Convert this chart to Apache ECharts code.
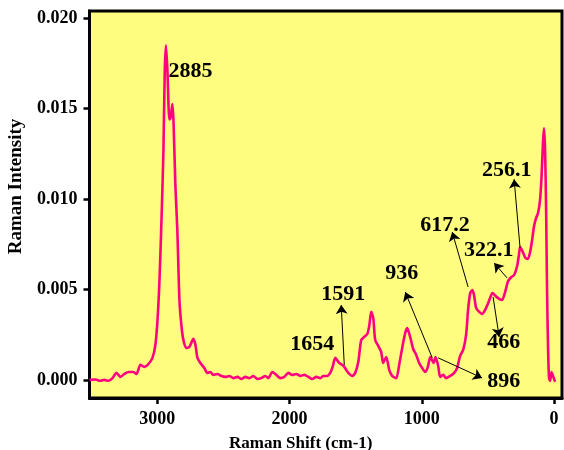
<!DOCTYPE html>
<html>
<head>
<meta charset="utf-8">
<title>Raman spectrum</title>
<script src="https://cdn.jsdelivr.net/npm/echarts@6/dist/echarts.min.js"></script>
<style>
  html, body { margin: 0; padding: 0; background: #ffffff; }
  #chart { width: 564px; height: 450px; }
</style>
</head>
<body>
<div id="chart"></div>
<script>
// Raman shift (cm-1) and intensity of the measured spectrum
const shift = [
  3512, 3467, 3429, 3399, 3369, 3338, 3308, 3278, 3248, 3218,
  3180, 3157, 3127, 3097, 3066, 3036, 3014, 2998, 2983, 2968,
  2953, 2943, 2934, 2923, 2908, 2900, 2885, 2876, 2863, 2848,
  2832, 2817, 2802, 2779, 2757, 2727, 2711, 2696, 2674, 2644,
  2621, 2598, 2576, 2545, 2515, 2485, 2455, 2424, 2394, 2364,
  2334, 2304, 2273, 2243, 2213, 2183, 2160, 2130, 2100, 2069,
  2039, 2009, 1979, 1949, 1918, 1888, 1858, 1828, 1798, 1767,
  1745, 1715, 1692, 1674, 1654, 1624, 1591, 1571, 1548, 1526,
  1503, 1480, 1458, 1435, 1412, 1397, 1382, 1367, 1352, 1329,
  1307, 1292, 1269, 1246, 1224, 1193, 1171, 1148, 1125, 1110,
  1088, 1065, 1042, 1020, 997, 974, 954, 936, 910, 896,
  876, 861, 838, 816, 785, 755, 733, 710, 687, 665,
  650, 634, 617.2, 604, 589, 566, 544, 521, 498, 478,
  466, 442, 415, 393, 370, 347, 322.1, 302, 279, 266,
  256.1, 236, 216, 198, 181, 166, 151, 136, 121, 106,
  94, 83, 76, 68, 60, 53, 45, 38, 30, 19,
  8, -8
];
const intensity = [
  0.00000, 0.00002, -0.00005, 0.00000, -0.00005, 0.00010, 0.00040, 0.00017, 0.00033, 0.00044,
  0.00044, 0.00033, 0.00083, 0.00072, 0.00088, 0.00122, 0.00193, 0.00330, 0.00550, 0.00880,
  0.01270, 0.01710, 0.01850, 0.01710, 0.01440, 0.01448, 0.01525, 0.01410, 0.01080, 0.00830,
  0.00440, 0.00300, 0.00220, 0.00177, 0.00182, 0.00227, 0.00193, 0.00122, 0.00094, 0.00066,
  0.00039, 0.00044, 0.00028, 0.00033, 0.00022, 0.00017, 0.00022, 0.00010, 0.00017, 0.00005,
  0.00017, 0.00010, 0.00022, 0.00005, 0.00010, 0.00022, 0.00010, 0.00044, 0.00028, 0.00010,
  0.00017, 0.00039, 0.00028, 0.00033, 0.00022, 0.00028, 0.00017, 0.00005, 0.00017, 0.00010,
  0.00022, 0.00022, 0.00039, 0.00072, 0.00122, 0.00094, 0.00077, 0.00055, 0.00033, 0.00022,
  0.00039, 0.00100, 0.00220, 0.00238, 0.00254, 0.00300, 0.00376, 0.00343, 0.00220, 0.00188,
  0.00155, 0.00094, 0.00127, 0.00055, 0.00022, 0.00010, 0.00083, 0.00177, 0.00260, 0.00287,
  0.00238, 0.00171, 0.00138, 0.00094, 0.00066, 0.00044, 0.00072, 0.00127, 0.00094, 0.00127,
  0.00077, 0.00017, 0.00028, 0.00010, 0.00022, 0.00039, 0.00066, 0.00133, 0.00166, 0.00249,
  0.00387, 0.00480, 0.00497, 0.00464, 0.00398, 0.00376, 0.00365, 0.00387, 0.00425, 0.00464,
  0.00481, 0.00464, 0.00448, 0.00442, 0.00486, 0.00547, 0.00569, 0.00580, 0.00630, 0.00690,
  0.00735, 0.00707, 0.00674, 0.00669, 0.00707, 0.00773, 0.00851, 0.00895, 0.00923, 0.00994,
  0.01133, 0.01326, 0.01392, 0.01271, 0.00939, 0.00497, 0.00166, 0.00010, -0.00005, 0.00044,
  0.00022, -0.00010
];

// Axis tick values
const xTicks = [0, 1000, 2000, 3000];
const yTicks = [0, 0.005, 0.010, 0.015, 0.020];

// Peak annotations: text, anchor shift, anchor intensity (left edge of text)
const peakNames = ['2885', '1654', '1591', '936', '896', '617.2', '322.1', '466', '256.1'];
const peakLabelX = [2915, 1994, 1760, 1277, 506, 1012, 680, 506, 544];
const peakLabelY = [0.01707, 0.00199, 0.00475, 0.00592, -0.00006, 0.00856, 0.00718, 0.00210, 0.01160];

// Arrows from a peak towards its label: tail and head positions
const arrowTailX = [1586, 921, 876, 650, 355, 461, 257];
const arrowTailY = [0.00083, 0.00122, 0.00122, 0.00514, 0.00564, 0.00459, 0.00729];
const arrowHeadX = [1609, 1125, 544, 770, 453, 415, 302];
const arrowHeadY = [0.00414, 0.00486, 0.00011, 0.00818, 0.00646, 0.00238, 0.01110];

const FONT = '"Liberation Serif", "Times New Roman", serif';

const lineData = shift.map((s, i) => [s, intensity[i]]);
const labelData = peakNames.map((n, i) => ({ value: [peakLabelX[i], peakLabelY[i]], name: n }));
const arrowData = arrowTailX.map((x, i) => ({
  coords: [[x, arrowTailY[i]], [arrowHeadX[i], arrowHeadY[i]]]
}));

const chart = echarts.init(document.getElementById('chart'), null, { renderer: 'canvas' });

chart.setOption({
  animation: false,
  backgroundColor: '#ffffff',
  grid: {
    left: 89.5, right: 2, top: 11, bottom: 52,
    containLabel: false,
    outerBoundsMode: 'none',
    show: true,
    backgroundColor: '#FFFD80',
    borderColor: '#000000',
    borderWidth: 3
  },
  xAxis: {
    type: 'value',
    inverse: true,
    min: -60,
    max: 3512,
    name: 'Raman Shift (cm-1)',
    nameLocation: 'middle',
    nameGap: 37,
    nameTextStyle: {
      fontFamily: FONT, fontWeight: 'bold', fontSize: 17, color: '#000',
      padding: [0, 50, 0, 0]
    },
    axisLine: { show: true, onZero: false, lineStyle: { color: '#000', width: 3 } },
    axisTick: {
      show: true, inside: false, length: 6,
      lineStyle: { color: '#000', width: 2.5 },
      customValues: xTicks
    },
    axisLabel: {
      fontFamily: FONT, fontWeight: 'bold', fontSize: 18, color: '#000', margin: 12,
      customValues: xTicks,
      formatter: v => String(v)
    },
    splitLine: { show: false }
  },
  yAxis: {
    type: 'value',
    min: -0.001,
    max: 0.0204,
    name: 'Raman Intensity',
    nameLocation: 'middle',
    nameGap: 64,
    nameRotate: 90,
    nameTextStyle: {
      fontFamily: FONT, fontWeight: 'bold', fontSize: 19, color: '#000',
      padding: [0, 0, 0, 36]
    },
    axisLine: { show: true, onZero: false, lineStyle: { color: '#000', width: 3 } },
    axisTick: {
      show: true, inside: false, length: 6,
      lineStyle: { color: '#000', width: 2.5 },
      customValues: yTicks
    },
    axisLabel: {
      fontFamily: FONT, fontWeight: 'bold', fontSize: 18, color: '#000', margin: 12,
      customValues: yTicks,
      formatter: v => v.toFixed(3)
    },
    splitLine: { show: false }
  },
  series: [
    {
      type: 'line',
      data: lineData,
      showSymbol: false,
      smooth: 0.25,
      lineStyle: { color: '#FF0080', width: 2.6 },
      z: 3
    },
    {
      type: 'lines',
      coordinateSystem: 'cartesian2d',
      data: arrowData,
      symbol: ['none', 'arrow'],
      symbolSize: [5, 9],
      lineStyle: { color: '#000', width: 1, opacity: 1 },
      z: 4
    },
    {
      type: 'scatter',
      data: labelData,
      symbolSize: 0,
      itemStyle: { opacity: 1 },
      label: {
        show: true,
        position: 'right',
        distance: 0,
        formatter: p => p.name,
        fontFamily: FONT,
        fontWeight: 'bold',
        fontSize: 22,
        color: '#000',
        opacity: 1
      },
      z: 5
    }
  ]
});
</script>
</body>
</html>
